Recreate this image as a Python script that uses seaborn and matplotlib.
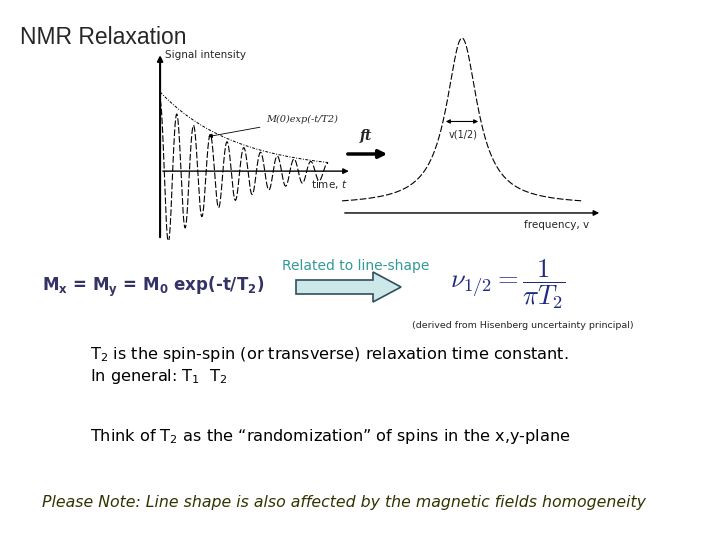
import numpy as np
import pandas as pd
import matplotlib

matplotlib.use("Agg")
import matplotlib.pyplot as plt
import matplotlib.patches as mpatches
import seaborn as sns

# diagram parameters (illustrative FID and its Lorentzian line)
T2 = [4.5]
OMEGA = [6.3]
T_RANGE = [0.0, 10.0]
HALF_WIDTH = [0.95]
NU_RANGE = [-6.0, 6.0]

TITLE = "NMR Relaxation"
LINES = [
    "T$_2$ is the spin-spin (or transverse) relaxation time constant.",
    "In general: T$_1$  T$_2$",
    "Think of T$_2$ as the \u201crandomization\u201d of spins in the x,y-plane",
]
NOTE = "Please Note: Line shape is also affected by the magnetic fields homogeneity"

sns.set_theme(style="white")
plt.rcParams["font.family"] = ["DejaVu Sans"]
plt.rcParams["mathtext.fontset"] = "dejavusans"

W, H = 720, 540
fig = plt.figure(figsize=(7.2, 5.4), dpi=100)


def fx(px):
    return px / W


def fy(py):
    return 1 - py / H


# FID
t = np.linspace(T_RANGE[0], T_RANGE[1], 800)
env = np.exp(-t / T2[0])
c = np.cos(OMEGA[0] * t)
fid = pd.DataFrame({"t": t, "s": env * c * np.where(c < 0, 1.0, 0.9)})
ax1 = fig.add_axes([fx(150), fy(240), 210 / W, 190 / H])
sns.lineplot(data=fid, x="t", y="s", ax=ax1, color="black", lw=0.8, dashes=(6, 2))
ax1.plot(t, env, color="black", lw=0.7, ls=(0, (3, 1.5, 1, 1.5)))
ax1.set_xlim(-0.6, 11.9)
ax1.set_ylim(-0.87, 1.53)
ax1.axis("off")
ax1.annotate("", xy=(11.4, 0), xytext=(0, 0),
             arrowprops=dict(arrowstyle="-|>", color="black", lw=1, mutation_scale=8))
ax1.annotate("", xy=(0, 1.5), xytext=(0, -0.87),
             arrowprops=dict(arrowstyle="-|>", color="black", lw=1.5, mutation_scale=8))
ax1.text(0.3, 1.47, "Signal intensity", fontsize=7.5, va="center")
ax1.text(9.0, -0.17, "time, $t$", fontsize=7.5, va="center")
ax1.annotate("M(0)exp(-t/T2)", xy=(2.7, 0.43), xytext=(6.3, 0.65),
             fontsize=7, family="DejaVu Serif", style="italic", va="center",
             arrowprops=dict(arrowstyle="-|>", color="black", lw=0.6, mutation_scale=6))

# Lorentzian
nu = np.linspace(NU_RANGE[0], NU_RANGE[1], 600)
lor = pd.DataFrame({"nu": nu, "L": 1 / (1 + (nu / HALF_WIDTH[0]) ** 2)})
ax2 = fig.add_axes([fx(340), fy(235), 270 / W, 205 / H])
sns.lineplot(data=lor, x="nu", y="L", ax=ax2, color="black", lw=0.8, dashes=(6, 2))
ax2.set_xlim(-6.1, 7.4)
ax2.set_ylim(-0.18, 1.048)
ax2.axis("off")
ax2.annotate("", xy=(7.0, -0.048), xytext=(-6.0, -0.048),
             arrowprops=dict(arrowstyle="-|>", color="black", lw=1, mutation_scale=8))
ax2.annotate("", xy=(HALF_WIDTH[0], 0.5), xytext=(-HALF_WIDTH[0], 0.5),
             arrowprops=dict(arrowstyle="<|-|>", color="black", lw=0.8, mutation_scale=6))
ax2.text(0.05, 0.42, "v(1/2)", fontsize=7, ha="center", va="center")
ax2.text(3.1, -0.12, "frequency, v", fontsize=7.5, va="center")

# ft arrow
fig.add_artist(mpatches.FancyArrowPatch((fx(345), fy(154)), (fx(390), fy(154)),
                                        transform=fig.transFigure, arrowstyle="-|>",
                                        mutation_scale=12, lw=2.5, color="black"))
fig.text(fx(366), fy(136), "ft", fontsize=10, family="DejaVu Serif", style="italic",
         weight="bold", ha="center", va="center")

fig.text(fx(20), fy(38), TITLE, fontsize=16.5, va="center", family="Liberation Sans")

fig.text(fx(42), fy(287), r"M$_\mathbf{x}$ = M$_\mathbf{y}$ = M$_\mathbf{0}$ exp(-t/T$_\mathbf{2}$)",
         fontsize=12, weight="bold", color="#333366", va="center")
fig.text(fx(282), fy(266), "Related to line-shape", fontsize=10, color="#339999", va="center")
fig.add_artist(mpatches.FancyArrow(fx(296), fy(287), fx(105), 0, width=14 / H,
                                   head_width=30 / H, head_length=fx(28),
                                   length_includes_head=True, transform=fig.transFigure,
                                   facecolor="#cce8e8", edgecolor="#2f4f5f", lw=1.2))
plt.rcParams["mathtext.fontset"] = "cm"
fig.text(fx(450), fy(284), r"$\nu_{1/2} = \dfrac{1}{\pi T_2}$", fontsize=19,
         color="#1f2a80", va="center")
plt.rcParams["mathtext.fontset"] = "dejavusans"
fig.text(fx(412), fy(326), "(derived from Hisenberg uncertainty principal)", fontsize=6.8, va="center")

fig.text(fx(90), fy(355), LINES[0], fontsize=11.6, va="center", color="black")
fig.text(fx(90), fy(377), LINES[1], fontsize=11.6, va="center", color="black")
fig.text(fx(90), fy(436), LINES[2], fontsize=11.6, va="center", color="black")
fig.text(fx(42), fy(503), NOTE, fontsize=11.3, style="italic", color="#333300", va="center")

fig.savefig("out.png", dpi=100)
